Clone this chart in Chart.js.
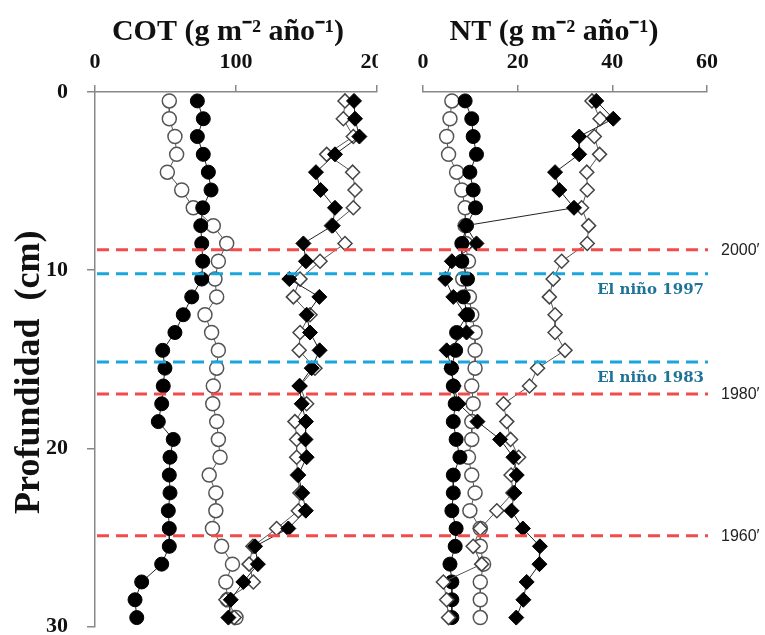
<!DOCTYPE html>
<html><head><meta charset="utf-8">
<script src="https://cdn.jsdelivr.net/npm/chart.js@4.4.1/dist/chart.umd.min.js"></script>
<style>
html,body{margin:0;padding:0;background:#fff;}
#wrap{position:relative;width:765px;height:635px;overflow:hidden;background:#fff;}
#leftBox{position:absolute;left:0;top:0;width:378px;height:635px;overflow:hidden;}
#rightBox{position:absolute;left:378px;top:0;width:387px;height:635px;overflow:hidden;}
canvas{display:block;}
</style></head><body>
<div id="wrap">
<div id="leftBox"><canvas id="cot" width="400" height="635"></canvas></div>
<div id="rightBox"><canvas id="nt" width="387" height="635"></canvas></div>
</div>
<script>
// ---------- DATA ----------
const depths = [0.5, 1.5, 2.5, 3.5, 4.5, 5.5, 6.5, 7.5, 8.5, 9.5, 10.5, 11.5, 12.5, 13.5, 14.5,
                15.5, 16.5, 17.5, 18.5, 19.5, 20.5, 21.5, 22.5, 23.5, 24.5, 25.5, 26.5, 27.5, 28.5, 29.5];

const cotFilledCircles = [72.6, 76.8, 72.6, 76.8, 80.4, 82.3, 76.4, 75.0, 75.7, 76.4, 75.7, 68.6, 62.6, 56.7, 48.0,
                          49.6, 48.4, 47.3, 44.9, 55.5, 53.2, 52.7, 53.2, 52.0, 52.7, 52.7, 47.3, 33.1, 28.4, 29.6];
const cotOpenCircles = [52.7, 52.7, 56.7, 57.9, 51.3, 61.5, 69.7, 83.9, 93.4, 87.5, 85.1, 86.3, 78.0, 82.7, 87.5,
                        86.3, 83.9, 83.5, 86.3, 87.5, 88.7, 81.0, 85.7, 85.7, 83.3, 89.8, 97.5, 92.8, 94.0, 100.0];
const cotFilledDiamonds = [183.7, 184.4, 187.5, 170.2, 156.7, 160.0, 170.2, 168.6, 147.8, 149.6, 137.8, 159.1, 150.1, 152.5, 159.3,
                           153.7, 144.9, 146.6, 149.6, 149.3, 150.1, 144.2, 147.0, 149.5, 137.1, 113.5, 115.5, 105.2, 96.3, 94.6];
const cotOpenDiamonds = [177.3, 176.1, 183.2, 164.3, 182.7, 184.4, 183.2, 167.8, 177.3, 159.6, 145.4, 140.7, 152.5, 145.4, 144.8,
                         156.0, 145.4, 150.1, 141.8, 143.0, 143.0, 143.6, 145.4, 144.2, 128.8, 112.0, 109.3, 112.3, 92.8, 98.7];

const ntFilledCircles = [8.9, 10.3, 10.6, 11.3, 9.9, 10.6, 11.1, 9.2, 8.2, 8.2, 9.4, 8.5, 9.4, 7.1, 6.9,
                         6.0, 6.4, 6.8, 6.4, 7.0, 7.8, 6.4, 6.4, 6.1, 7.0, 6.8, 5.7, 6.1, 6.1, 6.1];
const ntOpenCircles = [6.1, 5.7, 5.0, 5.4, 7.1, 8.2, 8.9, 8.9, 9.0, 9.6, 8.4, 9.8, 10.3, 11.0, 11.0,
                       11.0, 10.3, 10.6, 10.3, 10.3, 9.6, 10.3, 11.0, 9.9, 12.1, 12.1, 12.8, 12.1, 12.1, 12.1];
const ntFilledDiamonds = [36.6, 40.2, 33.0, 33.0, 27.9, 28.8, 31.9, 9.0, 11.3, 6.1, 4.7, 6.4, 9.0, 9.2, 5.0,
                          6.0, 6.5, 7.5, 11.5, 16.3, 19.1, 19.8, 19.3, 18.7, 21.1, 24.7, 24.6, 21.9, 21.2, 19.7];
const ntOpenDiamonds = [35.7, 37.4, 36.2, 37.3, 34.6, 34.7, 33.5, 35.0, 34.7, 29.3, 27.5, 26.7, 27.9, 27.9, 30.0,
                        24.2, 22.5, 17.0, 17.7, 18.5, 20.2, 18.6, 19.0, 15.6, 12.1, 10.6, 12.4, 4.3, 5.0, 5.4];

const cotTicks = [0, 100, 200];
const ntTicks = [0, 20, 40, 60];
const depthTicks = [0, 10, 20, 30];

const refDepths = [8.85, 10.2, 15.15, 16.95, 24.9];
const refLabels = ["2000\u2032", "El ni\u00f1o 1997", "El ni\u00f1o 1983", "1980\u2032", "1960\u2032"];

const cotTitle = "COT (g m\u207B\u00B2 a\u00f1o\u207B\u00B9)";
const ntTitle = "NT (g m\u207B\u00B2 a\u00f1o\u207B\u00B9)";
const depthTitle = "Profundidad  (cm)";

// ---------- STYLES ----------
const serif = "'Liberation Serif', 'Times New Roman', serif";
const refStyles = [
  {color: '#f24b4b', kind: 'decade'},
  {color: '#1aa6dd', kind: 'event'},
  {color: '#1aa6dd', kind: 'event'},
  {color: '#f24b4b', kind: 'decade'},
  {color: '#f24b4b', kind: 'decade'}
];
const styles = {
  filledCircle: {pointStyle: 'circle', pointRadius: 7, pointBackgroundColor: '#000', pointBorderColor: '#000', pointBorderWidth: 1, borderColor: '#222', borderWidth: 1, order: 2},
  openCircle: {pointStyle: 'circle', pointRadius: 7, pointBackgroundColor: '#fff', pointBorderColor: '#555', pointBorderWidth: 1.5, borderColor: '#555', borderWidth: 1, order: 3},
  filledDiamond: {pointStyle: 'rectRot', pointRadius: 7.5, pointBackgroundColor: '#000', pointBorderColor: '#000', pointBorderWidth: 1, borderColor: '#222', borderWidth: 1, order: 0},
  openDiamond: {pointStyle: 'rectRot', pointRadius: 7, pointBackgroundColor: '#fff', pointBorderColor: '#444', pointBorderWidth: 1.5, borderColor: '#555', borderWidth: 1, order: 1}
};
// small layout nudges (pixels) for the axis titles, matching the reference
const titleShift = {cot: -8, nt: -11, depth: 13};

function series(label, values, style) {
  return Object.assign({
    label: label,
    data: values.map((v, i) => ({x: v, y: depths[i]})),
    showLine: true, fill: false, tension: 0,
    pointHoverRadius: style.pointRadius
  }, style);
}

function refPlugin(x0, x1, dashOffset, withLabels) {
  return {
    id: 'refLines',
    afterDatasetsDraw(chart) {
      const ctx = chart.ctx, ys = chart.scales.y;
      ctx.save();
      ctx.lineWidth = 3;
      ctx.setLineDash([12, 7]);
      ctx.lineDashOffset = dashOffset;
      refDepths.forEach((d, i) => {
        const py = ys.getPixelForValue(d);
        ctx.strokeStyle = refStyles[i].color;
        ctx.beginPath();
        ctx.moveTo(x0(chart), py);
        ctx.lineTo(x1(chart), py);
        ctx.stroke();
      });
      ctx.setLineDash([]);
      if (withLabels) {
        const xEnd = x1(chart);
        refDepths.forEach((d, i) => {
          const py = ys.getPixelForValue(d);
          if (refStyles[i].kind === 'decade') {
            ctx.font = "16px 'Liberation Sans', Arial, sans-serif";
            ctx.fillStyle = '#222';
            ctx.textAlign = 'left';
            ctx.textBaseline = 'middle';
            ctx.fillText(refLabels[i], xEnd + 13, py + 1);
          } else {
            ctx.font = "bold 15px 'DejaVu Serif', serif";
            ctx.fillStyle = '#1f7397';
            ctx.textAlign = 'right';
            ctx.textBaseline = 'middle';
            ctx.fillText(refLabels[i], xEnd - 4, py + 16);
          }
        });
      }
      ctx.restore();
    }
  };
}

// Shift a scale title by drawing it ourselves at the scale's own title position plus a nudge.
function xAxis(ticksArr, title, shift) {
  return {
    type: 'linear', position: 'top',
    min: ticksArr[0], max: ticksArr[ticksArr.length - 1],
    afterBuildTicks(s) { s.ticks = ticksArr.map(v => ({value: v})); },
    ticks: {color: '#111', font: {family: serif, size: 22, weight: 'bold'}, padding: 9, maxRotation: 0},
    grid: {drawOnChartArea: false, drawTicks: true, tickLength: 7, color: '#888', lineWidth: 1.5},
    border: {display: true, color: '#888', width: 1.5},
    title: {display: true, text: title, color: '#111', font: {family: serif, size: 30, weight: 'bold'}, padding: {top: 14, bottom: 0}},
    afterFit(s) { s.height = 92; s.paddingLeft = 0; s.paddingRight = 0; },
    _shift: shift
  };
}

function yAxis(show) {
  return {
    type: 'linear', reverse: true, display: show,
    min: depthTicks[0], max: depthTicks[depthTicks.length - 1],
    afterBuildTicks(s) { s.ticks = depthTicks.map(v => ({value: v})); },
    ticks: {color: '#111', font: {family: serif, size: 22, weight: 'bold'}, padding: 19},
    grid: {drawOnChartArea: false, drawTicks: true, tickLength: 8, color: '#888', lineWidth: 1.5},
    border: {display: true, color: '#888', width: 1.5},
    title: {display: true, text: depthTitle, color: '#111', font: {family: serif, size: 36, weight: 'bold'}, padding: {top: 8, bottom: 0}},
    afterFit(s) { if (show) { s.width = 95; } s.paddingTop = 0; s.paddingBottom = 0; }
  };
}

// plugin: translate the canvas while each scale title is drawn, to nudge it
const titleNudge = {
  id: 'titleNudge',
  beforeInit(chart) {
    Object.values(chart.config.options.scales || {}).forEach(() => {});
  },
  afterLayout(chart) {
    Object.values(chart.scales).forEach(s => {
      if (s._nudged) return;
      const orig = s.drawTitle.bind(s);
      const key = s.axis === 'x' ? chart.canvas.id : 'depth';
      s.drawTitle = function () {
        const dx = s.axis === 'x' ? titleShift[key] : 0;
        const dy = s.axis === 'y' ? titleShift.depth : 0;
        s.ctx.save();
        s.ctx.translate(dx, dy);
        orig();
        s.ctx.restore();
      };
      s._nudged = true;
    });
  }
};

const common = {
  responsive: false, maintainAspectRatio: false, animation: false,
  plugins: {legend: {display: false}, tooltip: {enabled: false}},
  events: []
};

new Chart(document.getElementById('cot'), {
  type: 'scatter',
  data: {datasets: [
    series('COT filled circles', cotFilledCircles, styles.filledCircle),
    series('COT open circles', cotOpenCircles, styles.openCircle),
    series('COT filled diamonds', cotFilledDiamonds, styles.filledDiamond),
    series('COT open diamonds', cotOpenDiamonds, styles.openDiamond)
  ]},
  options: Object.assign({}, common, {
    layout: {padding: {left: 0, right: 23, top: 0, bottom: 8}},
    scales: {x: xAxis(cotTicks, cotTitle), y: yAxis(true)}
  }),
  plugins: [titleNudge, refPlugin(c => c.chartArea.left + 2, c => c.width, 0, false)]
});

new Chart(document.getElementById('nt'), {
  type: 'scatter',
  data: {datasets: [
    series('NT filled circles', ntFilledCircles, styles.filledCircle),
    series('NT open circles', ntOpenCircles, styles.openCircle),
    series('NT filled diamonds', ntFilledDiamonds, styles.filledDiamond),
    series('NT open diamonds', ntOpenDiamonds, styles.openDiamond)
  ]},
  options: Object.assign({}, common, {
    layout: {padding: {left: 45, right: 58, top: 0, bottom: 8}},
    scales: {x: xAxis(ntTicks, ntTitle), y: yAxis(false)}
  }),
  plugins: [titleNudge, refPlugin(c => 0, c => c.chartArea.right + 1, 15, true)]
});
</script>
</body></html>
